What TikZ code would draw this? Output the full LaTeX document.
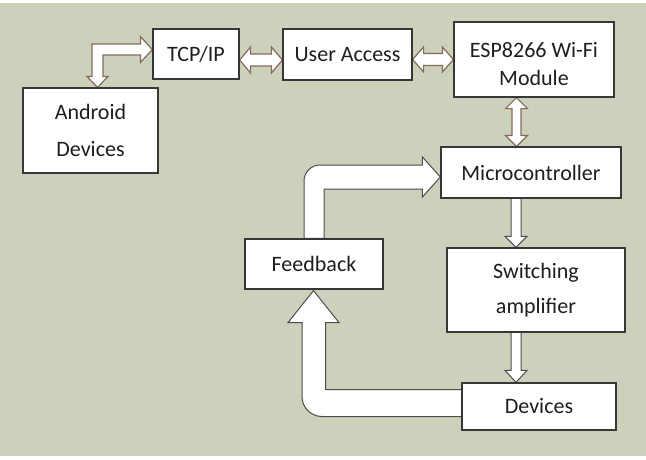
\documentclass[tikz,border=0pt]{standalone}
\usepackage{fontspec}
\setmainfont{Carlito}
\usetikzlibrary{calc}
\definecolor{bgc}{RGB}{204,209,188}
\definecolor{brownline}{RGB}{135,105,90}
\definecolor{boxline}{RGB}{55,55,55}
\definecolor{txt}{RGB}{30,30,30}
\tikzset{
  box/.style={draw=boxline, line width=1.2pt, fill=white, inner sep=0pt, text=txt, align=center,
    font=\fontsize{22}{36}\selectfont},
  smallarrow/.style={draw=brownline, line width=1.2pt, fill=white, line join=miter},
  bigarrow/.style={draw=black!70, line width=1pt, fill=white, line join=miter},
}
\newcommand\hdarrow[6]{\draw[smallarrow] let \p1=($(#1)+(0,#3)$), \p2=(#2) in
  (\x1,\y1) -- (\x1+#6pt,\y1+#5pt) -- (\x1+#6pt,\y1+#4pt) -- (\x2-#6pt,\y1+#4pt) -- (\x2-#6pt,\y1+#5pt)
  -- (\x2,\y1) -- (\x2-#6pt,\y1-#5pt) -- (\x2-#6pt,\y1-#4pt) -- (\x1+#6pt,\y1-#4pt) -- (\x1+#6pt,\y1-#5pt) -- cycle;}
\newcommand\vdarrow[6]{\draw[smallarrow] let \p1=($(#1)+(#3,0)$), \p2=(#2) in
  (\x1,\y1) -- (\x1+#5pt,\y1-#6pt) -- (\x1+#4pt,\y1-#6pt) -- (\x1+#4pt,\y2+#6pt) -- (\x1+#5pt,\y2+#6pt)
  -- (\x1,\y2) -- (\x1-#5pt,\y2+#6pt) -- (\x1-#4pt,\y2+#6pt) -- (\x1-#4pt,\y1-#6pt) -- (\x1-#5pt,\y1-#6pt) -- cycle;}
\newcommand\vsarrow[6]{\draw[bigarrow] let \p1=($(#1)+(#3,0)$), \p2=(#2) in
  (\x1-#4pt,\y1+2pt) -- (\x1-#4pt,\y2+#6pt) -- (\x1-#5pt,\y2+#6pt) -- (\x1,\y2) -- (\x1+#5pt,\y2+#6pt)
  -- (\x1+#4pt,\y2+#6pt) -- (\x1+#4pt,\y1+2pt) -- cycle;}
\newcommand\esptext{\raisebox{0pt}[\dimexpr\height+13pt\relax][\depth]{\begin{tabular}{@{}c@{}}ESP8266 Wi-Fi\\Module\end{tabular}}}
\begin{document}
\begin{tikzpicture}[x=1pt,y=-1pt]
\useasboundingbox (0,0) rectangle (646,459);
\fill[white] (0,0) rectangle (646,459);
\fill[bgc] (0,3) rectangle (646,456);

% boxes (placed first for names; redrawn on top below)
\node[box, minimum width=86pt, minimum height=50pt] (tcp) at (196,54) {TCP/IP};
\node[box, minimum width=129pt, minimum height=51pt] (ua) at (347.5,54.5) {User Access};
\node[box, minimum width=160pt, minimum height=75pt, font=\fontsize{22}{28.5}\selectfont] (esp) at (534,59.5) {\esptext};
\node[box, minimum width=135pt, minimum height=85pt, font=\fontsize{22}{37}\selectfont] (android) at (90.5,130.5) {Android\\Devices};
\node[box, minimum width=180pt, minimum height=51pt] (micro) at (531,172.5) {Microcontroller};
\node[box, minimum width=138pt, minimum height=50pt] (feedback) at (314,264) {Feedback};
\node[box, minimum width=178pt, minimum height=84pt, font=\fontsize{22}{35}\selectfont] (switch) at (536,290) {Switching\\amplifier};
\node[box, minimum width=154pt, minimum height=47pt] (devices) at (539,406.5) {Devices};

% connectors
\hdarrow{tcp.east}{ua.west}{6}{6}{13}{11}
\hdarrow{ua.east}{esp.west}{5}{6}{12.5}{11}
\vdarrow{esp.south}{micro.north}{-17.5}{4.5}{11}{11}

\draw[smallarrow] let \p1=(android.north), \p2=(tcp.west) in
  (\x2,\y2+4.5pt) -- (\x2-12pt,\y2+17.5pt) -- (\x2-12pt,\y2+10pt) -- (\x1+1.5pt,\y2+10pt)
  -- (\x1+1.5pt,\y1+11pt) -- (\x1-3.5pt,\y1+11pt) -- (\x1+7pt,\y1) -- (\x1+17.5pt,\y1+11pt)
  -- (\x1+12.5pt,\y1+11pt) -- (\x1+12.5pt,\y2-1pt) -- (\x2-12pt,\y2-1pt) -- (\x2-12pt,\y2-8.5pt) -- cycle;

\vsarrow{micro.south}{switch.north}{-15}{5}{11}{11}
\vsarrow{switch.south}{devices.north}{-20}{5}{11}{12}

\draw[bigarrow] let \p1=(feedback.north), \p2=(micro.west) in
  (\x1-10pt,\y1) -- (\x1-10pt,\y2-8.5pt) .. controls (\x1-10pt,\y2+0.3pt) and (\x1-2.8pt,\y2+7.5pt) ..
  (\x1+6pt,\y2+7.5pt) -- (\x2-18pt,\y2+7.5pt) -- (\x2-18pt,\y2+15.5pt) -- (\x2,\y2-4.5pt)
  -- (\x2-18pt,\y2-24.5pt) -- (\x2-18pt,\y2-16.5pt) -- (\x1+10pt,\y2-16.5pt) -- (\x1+10pt,\y1) -- cycle;

\draw[bigarrow] let \p1=(devices.west), \p2=(feedback.south) in
  (\x1+8pt,\y1+17pt) -- (\x2+11.5pt,\y1+17pt) -- (\x2+11.5pt,\y2-33pt) -- (\x2+25pt,\y2-33pt)
  -- (\x2-0.5pt,\y2-1pt) -- (\x2-26pt,\y2-33pt) -- (\x2-12pt,\y2-33pt) -- (\x2-12pt,\y1+10pt)
  .. controls (\x2-12pt,\y1-1pt) and (\x2-3pt,\y1-10pt) .. (\x2+8pt,\y1-10pt)
  -- (\x1+8pt,\y1-10pt) -- cycle;

% boxes on top
\node[box, minimum width=86pt, minimum height=50pt] at (tcp) {TCP/IP};
\node[box, minimum width=129pt, minimum height=51pt] at (ua) {User Access};
\node[box, minimum width=160pt, minimum height=75pt, font=\fontsize{22}{28.5}\selectfont] at (esp) {\esptext};
\node[box, minimum width=135pt, minimum height=85pt, font=\fontsize{22}{37}\selectfont] at (android) {Android\\Devices};
\node[box, minimum width=180pt, minimum height=51pt] at (micro) {Microcontroller};
\node[box, minimum width=138pt, minimum height=50pt] at (feedback) {Feedback};
\node[box, minimum width=178pt, minimum height=84pt, font=\fontsize{22}{35}\selectfont] at (switch) {Switching\\amplifier};
\node[box, minimum width=154pt, minimum height=47pt] at (devices) {Devices};
\end{tikzpicture}
\end{document}
